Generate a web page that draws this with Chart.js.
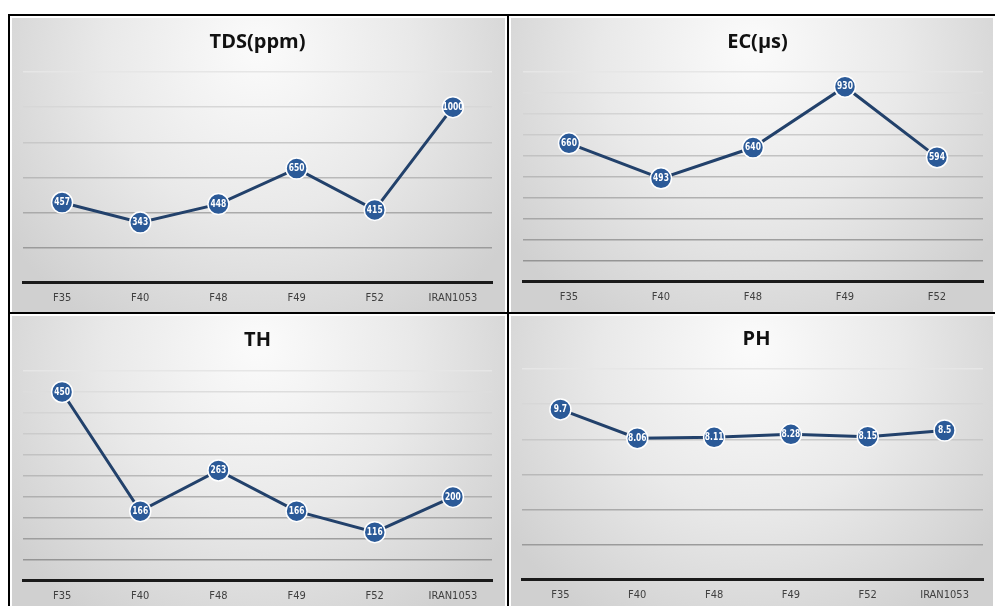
<!DOCTYPE html>
<html>
<head>
<meta charset="utf-8">
<script src="https://cdn.jsdelivr.net/npm/chart.js@4"></script>
<style>
  html, body { margin: 0; padding: 0; background: #ffffff; }
  body { width: 995px; height: 606px; position: relative; overflow: hidden; }
  #frame { position: absolute; left: 8px; top: 14px; width: 990px; height: 600px; background: #000; }
  .panel { position: absolute; overflow: hidden; }
  .panel canvas { display: block; }
</style>
</head>
<body>
<div id="frame"></div>
<div class="panel" style="left:10px;top:16px;width:497px;height:296px;"><canvas id="c1"></canvas></div>
<div class="panel" style="left:509px;top:16px;width:486px;height:296px;"><canvas id="c2"></canvas></div>
<div class="panel" style="left:10px;top:314px;width:497px;height:292px;"><canvas id="c3"></canvas></div>
<div class="panel" style="left:509px;top:314px;width:486px;height:292px;"><canvas id="c4"></canvas></div>
<script>
// ---- data ----
const catsSix = ['F35', 'F40', 'F48', 'F49', 'F52', 'IRAN1053'];
const catsFive = ['F35', 'F40', 'F48', 'F49', 'F52'];

const tdsValues = [457, 343, 448, 650, 415, 1000];
const tdsLabels = ['457', '343', '448', '650', '415', '1000'];

const ecValues = [660, 493, 640, 930, 594];
const ecLabels = ['660', '493', '640', '930', '594'];

const thValues = [450, 166, 263, 166, 116, 200];
const thLabels = ['450', '166', '263', '166', '116', '200'];

const phValues = [9.7, 8.06, 8.11, 8.28, 8.15, 8.5];
const phLabels = ['9.7', '8.06', '8.11', '8.28', '8.15', '8.5'];

// y-axis ranges (hidden axis, gridlines only)
const tdsAxis = { max: 1200, step: 200 };
const ecAxis = { max: 1000, step: 100 };
const thAxis = { max: 500, step: 50 };
const phAxis = { max: 12, step: 2 };

// ---- plugins ----
const bgPlugin = {
  id: 'panelBg',
  beforeDraw(chart) {
    const { ctx, width, height } = chart;
    ctx.save();
    const g = ctx.createRadialGradient(width / 2, 30, 10, width / 2, 60, width * 0.6);
    g.addColorStop(0, '#fafafa');
    g.addColorStop(0.5, '#e9e9e9');
    g.addColorStop(1, '#d0d0d0');
    ctx.fillStyle = g;
    ctx.fillRect(0, 0, width, height);
    ctx.strokeStyle = '#ffffff';
    ctx.lineWidth = 2;
    ctx.strokeRect(1, 1, width - 2, height + 4);
    ctx.restore();
  }
};

const valueLabelPlugin = {
  id: 'valueLabels',
  afterDatasetsDraw(chart) {
    const { ctx } = chart;
    const labels = chart.options.plugins.valueLabels.labels;
    const meta = chart.getDatasetMeta(0);
    ctx.save();
    ctx.fillStyle = '#ffffff';
    ctx.font = 'bold 10.5px "DejaVu Sans Condensed", "DejaVu Sans", sans-serif';
    ctx.textAlign = 'center';
    ctx.textBaseline = 'middle';
    meta.data.forEach((pt, i) => {
      ctx.save();
      ctx.translate(pt.x, pt.y);
      ctx.scale(0.8, 1);
      ctx.fillText(labels[i], 0, 0);
      ctx.restore();
    });
    ctx.restore();
  }
};

function gridColor(axisMax) {
  return (c) => {
    if (!c.tick) return '#999';
    const f = c.tick.value / axisMax; // 0 bottom .. 1 top
    const v = Math.round(140 + f * 90);
    return `rgb(${v},${v},${v})`;
  };
}

function makeChart(id, title, cats, values, labels, axis, pad, titleBottom) {
  new Chart(document.getElementById(id), {
    type: 'line',
    data: {
      labels: cats,
      datasets: [{
        data: values,
        borderColor: '#22416b',
        borderWidth: 3,
        pointRadius: 10.5,
        pointHoverRadius: 10.5,
        pointBackgroundColor: '#2b5a98',
        pointBorderColor: '#ffffff',
        pointBorderWidth: 1.5,
        tension: 0,
        clip: false
      }]
    },
    options: {
      responsive: true,
      maintainAspectRatio: false,
      animation: false,
      layout: { padding: pad },
      plugins: {
        legend: { display: false },
        tooltip: { enabled: false },
        title: {
          display: true,
          text: title,
          color: '#111111',
          font: { family: '"Open Sans", sans-serif', size: 20, weight: 'bold' },
          padding: { top: 14, bottom: titleBottom }
        },
        valueLabels: { labels: labels }
      },
      scales: {
        x: {
          offset: true,
          grid: { display: false, drawTicks: false },
          border: { display: true, color: '#1a1a1a', width: 3 },
          ticks: {
            color: '#404040',
            padding: 9,
            font: { family: '"Liberation Sans Narrow", "DejaVu Sans Condensed", sans-serif', size: 11 }
          }
        },
        y: {
          display: true,
          min: 0,
          max: axis.max,
          ticks: { display: false, stepSize: axis.step },
          border: { display: false },
          grid: {
            drawTicks: false,
            color: gridColor(axis.max),
            lineWidth: (c) => (c.tick && c.tick.value === 0 ? 0 : 1.5)
          }
        }
      }
    },
    plugins: [bgPlugin, valueLabelPlugin]
  });
}

makeChart('c1', 'TDS(ppm)', catsSix, tdsValues, tdsLabels, tdsAxis, { left: 13, right: 15, top: 0, bottom: -2 }, 18);
makeChart('c2', 'EC(\u00b5s)', catsFive, ecValues, ecLabels, ecAxis, { left: 14, right: 3, top: 0, bottom: -1 }, 18);
makeChart('c3', 'TH', catsSix, thValues, thLabels, thAxis, { left: 13, right: 15, top: 0, bottom: -6 }, 19);
makeChart('c4', 'PH', catsSix, phValues, phLabels, phAxis, { left: 13, right: 4, top: -1, bottom: -5 }, 18);
</script>
</body>
</html>
